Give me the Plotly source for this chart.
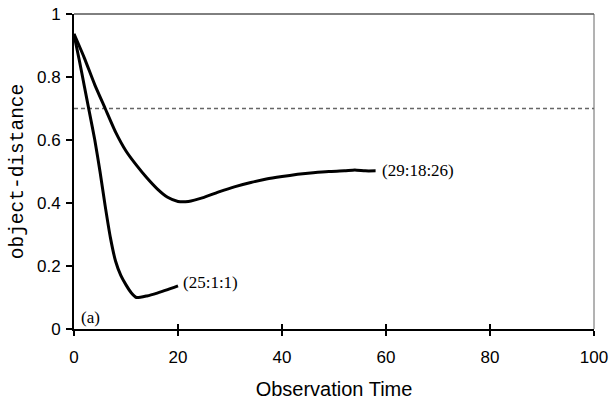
import plotly.graph_objects as go

# Series: object-distance over observation time for two configurations
t_a = [0, 1, 2, 3, 4, 5, 6, 7, 8, 9, 10, 11, 12, 14, 16, 18, 20]
d_a = [0.935, 0.855, 0.77, 0.685, 0.60, 0.50, 0.39, 0.29, 0.215, 0.17, 0.14, 0.115, 0.10, 0.105, 0.114, 0.125, 0.137]
label_a = "(25:1:1)"

t_b = [0, 2, 4, 6, 8, 10, 12, 14, 16, 18, 20, 22, 25, 28, 31, 34, 37, 40, 43, 46, 49, 52, 54, 56, 58]
d_b = [0.937, 0.86, 0.775, 0.70, 0.625, 0.565, 0.52, 0.48, 0.445, 0.418, 0.405, 0.405, 0.418, 0.436, 0.452, 0.465, 0.476, 0.484, 0.491, 0.496, 0.50, 0.502, 0.505, 0.502, 0.502]
label_b = "(29:18:26)"

threshold = 0.7
x_ticks = [0, 20, 40, 60, 80, 100]
y_ticks = [0, 0.2, 0.4, 0.6, 0.8, 1]
y_tick_text = ["0", "0.2", "0.4", "0.6", "0.8", "1"]

fig = go.Figure()
for t, d in ((t_a, d_a), (t_b, d_b)):
    fig.add_trace(go.Scatter(x=t, y=d, mode="lines",
                             line=dict(color="black", width=3, shape="spline", smoothing=0.5),
                             showlegend=False, hoverinfo="skip"))

# curve end labels
serif = dict(family="Liberation Serif", size=17, color="black")
fig.add_annotation(x=t_a[-1], y=d_a[-1], text=label_a, showarrow=False,
                   xanchor="left", yanchor="middle", xshift=3, yshift=3, font=serif)
fig.add_annotation(x=t_b[-1], y=d_b[-1], text=label_b, showarrow=False,
                   xanchor="left", yanchor="middle", xshift=4, font=serif)
fig.add_annotation(x=0.9, y=0.0, text="(a)", showarrow=False,
                   xanchor="left", yanchor="bottom", yshift=0, font=serif)

# threshold line
fig.add_shape(type="line", xref="paper", x0=0, x1=1, yref="y", y0=threshold, y1=threshold,
              line=dict(color="#666666", width=1.5, dash="4px,3px"), layer="below")
# thin top and right frame
fig.add_shape(type="line", xref="paper", x0=0, x1=1, yref="paper", y0=1, y1=1,
              line=dict(color="black", width=1))
fig.add_shape(type="line", xref="paper", x0=1, x1=1, yref="paper", y0=0, y1=1,
              line=dict(color="#666666", width=1))

fig.update_layout(
    width=610, height=403,
    margin=dict(l=74, r=16, t=14, b=74, autoexpand=False),
    paper_bgcolor="white", plot_bgcolor="white",
    font=dict(family="Liberation Sans", size=17, color="black"),
    xaxis=dict(range=[0, 100], tickvals=x_ticks, ticks="outside", ticklen=5, tickwidth=2,
               tickcolor="black", showline=True, linecolor="black", linewidth=2,
               showgrid=False, zeroline=False, ticklabelstandoff=7, automargin=False,
               tickfont=dict(size=17),
               title=dict(text="Observation Time", standoff=16,
                          font=dict(family="Liberation Sans", size=20))),
    xaxis2=dict(range=[0, 100], tickvals=x_ticks, ticks="inside", ticklen=5, tickwidth=2,
                tickcolor="black", showticklabels=False, showline=False, showgrid=False,
                zeroline=False, overlaying="x", anchor="y", side="bottom", automargin=False),
    yaxis=dict(range=[0, 1], tickvals=y_ticks, ticktext=y_tick_text, ticks="outside",
               ticklen=6, tickwidth=2, tickcolor="black", showline=True, linecolor="black",
               linewidth=2, showgrid=False, zeroline=False, automargin=False,
               tickfont=dict(size=17), ticklabelstandoff=2,
               title=dict(text="object-distance", standoff=8,
                          font=dict(family="Liberation Mono", size=19.5))),
)
# invisible trace to activate the inside-tick overlay axis
fig.add_trace(go.Scatter(x=[0], y=[0], xaxis="x2", mode="markers",
                         marker=dict(opacity=0), showlegend=False, hoverinfo="skip"))

fig.write_html("out.html")
